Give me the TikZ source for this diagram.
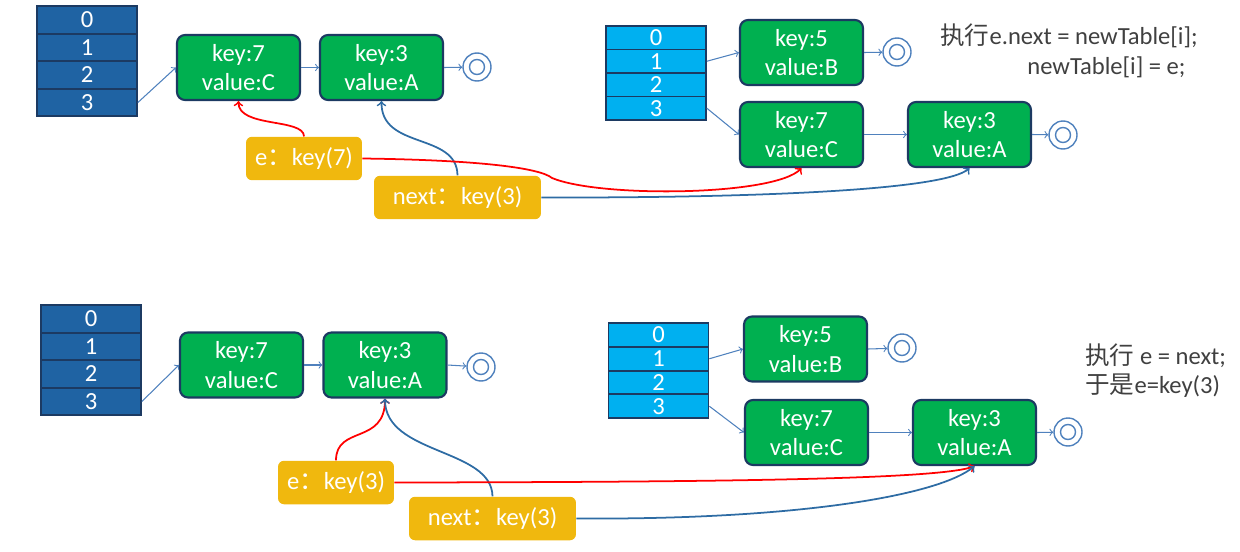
\documentclass[tikz,border=0pt]{standalone}
\usepackage{fontspec}
\setmainfont{Carlito}
\newfontfamily\cjk{Noto Sans CJK SC}
\usepackage{xcolor}
\definecolor{cellDark}{RGB}{31,99,163}
\definecolor{cellLight}{RGB}{0,176,240}
\definecolor{entryGreen}{RGB}{0,176,80}
\definecolor{navy}{RGB}{28,58,98}
\definecolor{ptrYellow}{RGB}{240,184,14}
\definecolor{linkBlue}{RGB}{79,129,189}
\definecolor{curveBlue}{RGB}{46,108,164}
\definecolor{noteGray}{RGB}{64,64,64}

\begin{document}
\begin{tikzpicture}[x=0.02cm,y=-0.02cm,
    every node/.style={font=\fontsize{14}{17}\selectfont},
    cellDk/.style={draw=navy,line width=1pt,fill=cellDark,text=white,
        minimum width=2cm,minimum height=0.55cm,inner sep=0pt},
    cellLt/.style={draw=navy,line width=1pt,fill=cellLight,text=white,
        minimum width=2cm,minimum height=0.47cm,inner sep=0pt},
    entry/.style={draw=navy,line width=1.2pt,fill=entryGreen,text=white,
        rounded corners=0.16cm,align=center,minimum width=2.46cm,minimum height=1.3cm,inner sep=0pt},
    ptr/.style={fill=ptrYellow,text=white,rounded corners=0.12cm,
        minimum height=0.87cm,inner sep=0pt},
    nil/.style={circle,draw=linkBlue,fill=white,line width=0.8pt,minimum size=0.56cm,inner sep=0pt,
        path picture={\draw[linkBlue,line width=0.8pt] (path picture bounding box.center) circle (0.15cm);}},
    link/.style={->,draw=linkBlue,line width=0.6pt},
    eref/.style={->,draw=red,line width=1pt},
    nref/.style={->,draw=curveBlue,line width=1pt},
    note/.style={text=noteGray,anchor=west,inner sep=0pt}]
    \useasboundingbox (0,0) rectangle (1240,551);

    % ===== 上半部分 =====
    % 旧表
    \foreach \i in {0,...,3}
        \node[cellDk] (ta\i) at (87,{20+27.5*\i}) {\i};
    \node[entry] (n1) at (238.5,67.5) {key:7\\value:C};
    \node[entry] (n2) at (381.5,67.5) {key:3\\value:A};
    \node[nil] (nil1) at (477,67) {};
    \draw[link] (ta3.east) -- (n1.west);
    \draw[link] (n1.east) -- (n2.west);
    \draw[link] (n2.east) -- (nil1);

    % 新表
    \foreach \i in {0,...,3}
        \node[cellLt] (tb\i) at (656,{37.75+23.5*\i}) {\i};
    \node[entry] (k5) at (801.5,52.5) {key:5\\value:B};
    \node[nil] (nil2) at (897,52) {};
    \node[entry] (k7) at (801.5,134.5) {key:7\\value:C};
    \node[entry] (k3) at (969.5,134.5) {key:3\\value:A};
    \node[nil] (nil3) at (1063,135) {};
    \draw[link] (tb1.east) -- (k5.west);
    \draw[link] (k5.east) -- (nil2);
    \draw[link] (tb3.east) -- (k7.west);
    \draw[link] (k7.east) -- (k3.west);
    \draw[link] (k3.east) -- (nil3);

    % 说明文字
    \node[note] (t1) at (940,36) {{\cjk 执行}e.next = newTable[i];};
    \node[note] (t2) at (1027,67) {newTable[i] = e;};

    % 指针 e 和 next
    \node[ptr,minimum width=2.32cm] (e1) at (304,158.5) {e{\cjk ：}key(7)};
    \node[ptr,minimum width=3.34cm] (next1) at (457.5,197.5) {next{\cjk ：}key(3)};
    \draw[eref] (e1.north) .. controls (304,118) and (238,128) .. (n1.south);
    \draw[nref] (next1.north) .. controls (457,132) and (381,150) .. (n2.south);
    \draw[eref] (e1.east) .. controls (480,160) and (540,168) .. (552,178)
        .. controls (600,198) and (775,196) .. (k7.south);
    \draw[nref] (next1.east) .. controls (760,198) and (945,190) .. (k3.south);

    % ===== 下半部分 =====
    % 旧表
    \foreach \i in {0,...,3}
        \node[cellDk] (tc\i) at (91,{319+27.5*\i}) {\i};
    \node[entry] (m1) at (241.5,365) {key:7\\value:C};
    \node[entry] (m2) at (385,365) {key:3\\value:A};
    \node[nil] (nil4) at (481,367) {};
    \draw[link] (tc3.east) -- (m1.west);
    \draw[link] (m1.east) -- (m2.west);
    \draw[link] (m2.east) -- (nil4);

    % 新表
    \foreach \i in {0,...,3}
        \node[cellLt] (td\i) at (658.5,{335+23.75*\i}) {\i};
    \node[entry] (p5) at (805.5,349) {key:5\\value:B};
    \node[nil] (nil5) at (902,348) {};
    \node[entry] (p7) at (806.5,432.5) {key:7\\value:C};
    \node[entry] (p3) at (974.5,432.5) {key:3\\value:A};
    \node[nil] (nil6) at (1068,432) {};
    \draw[link] (td1.east) -- (p5.west);
    \draw[link] (p5.east) -- (nil5);
    \draw[link] (td3.east) -- (p7.west);
    \draw[link] (p7.east) -- (p3.west);
    \draw[link] (p3.east) -- (nil6);

    % 说明文字
    \node[note] (t3) at (1085,356) {{\cjk 执行} e = next;};
    \node[note] (t4) at (1085,386) {{\cjk 于是}e=key(3)};

    % 指针 e 和 next
    \node[ptr,minimum width=2.32cm] (e2) at (336,482.5) {e{\cjk ：}key(3)};
    \node[ptr,minimum width=3.34cm] (next2) at (492.5,518.5) {next{\cjk ：}key(3)};
    \draw[eref] (e2.north) .. controls (336,425) and (385,445) .. (m2.south);
    \draw[nref] (next2.north) .. controls (492,448) and (385,455) .. (m2.south);
    \draw[eref] (e2.east) .. controls (700,482) and (940,480) .. (p3.south);
    \draw[nref] (next2.east) .. controls (800,520) and (940,495) .. (p3.south);
\end{tikzpicture}
\end{document}
